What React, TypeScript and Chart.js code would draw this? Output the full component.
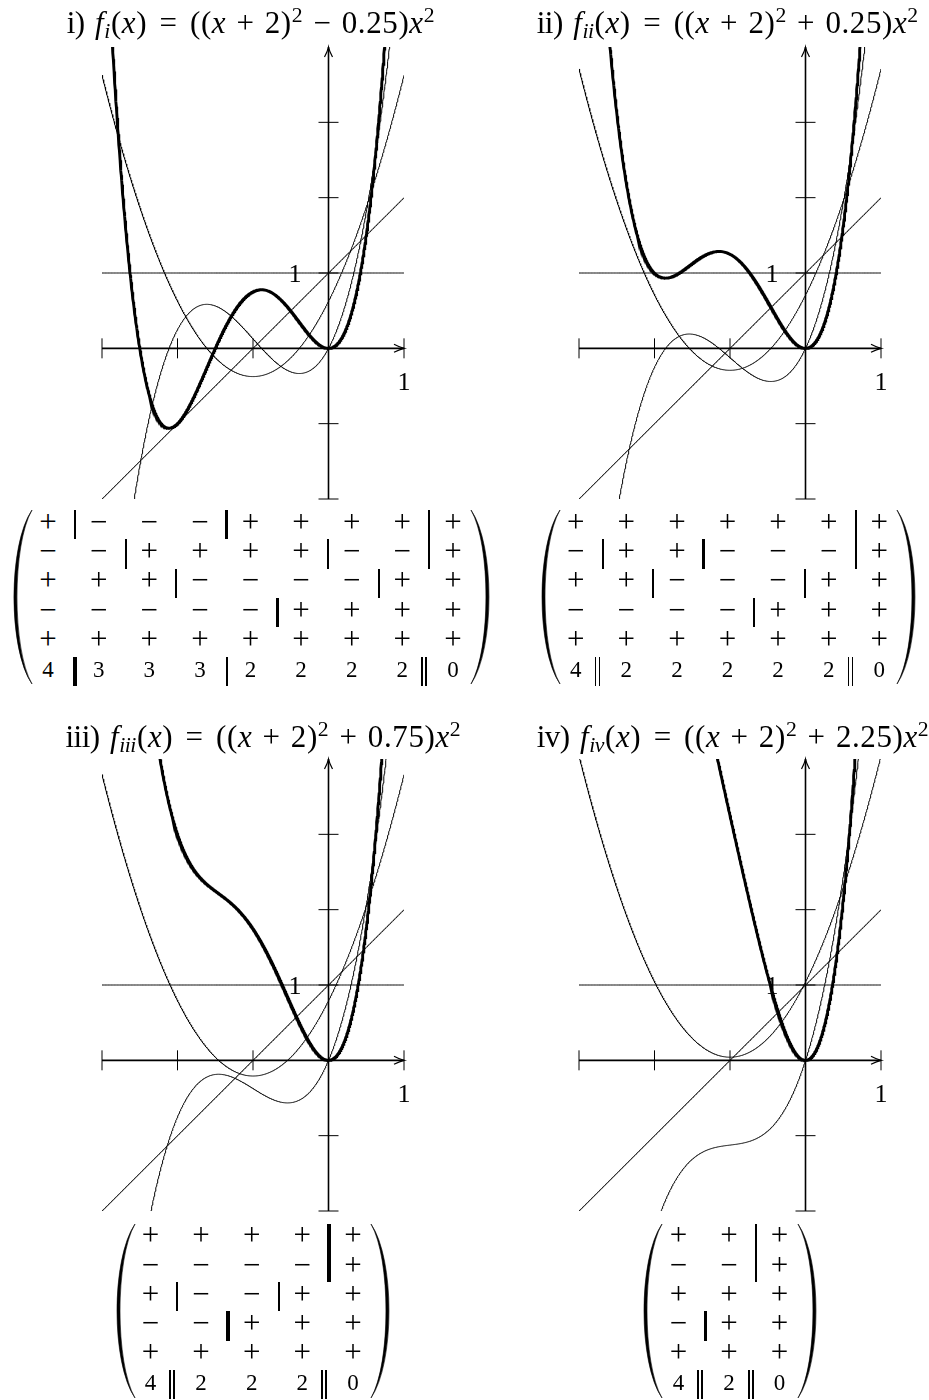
import React, { useEffect, useRef } from "react";
import { Chart, registerables } from "chart.js";

Chart.register(...registerables);

const FONT = '"Liberation Serif", "Times New Roman", serif';

// ---- data ----
const panelNumerals = ["i", "ii", "iii", "iv"];
// c in f(x) = ((x + 2)^2 + c) x^2, as written in each title
const shifts = [-0.25, 0.25, 0.75, 2.25];
const xRange = [-3, 1];
const yRange = [-2, 4];
const xTickValues = [-3, -2, -1, 1];
const yTickValues = [-2, -1, 1, 2, 3];
const axisLabelValue = 1;

// sign tables (| thin bar, ┃ thick bar, ‖ double bar)
const signsI = [
  "+ | − − − ┃ + + + + | +",
  "− − | + + + + | − − | +",
  "+ + + | − − − − | + +",
  "− − − − − ┃ + + + +",
  "+ + + + + + + + +",
  "4 ┃ 3 3 3 | 2 2 2 2 ‖ 0",
];
const signsII = [
  "+ + + + + + | +",
  "− | + + ┃ − − − | +",
  "+ + | − − − | + +",
  "− − − − | + + +",
  "+ + + + + + +",
  "4 ‖ 2 2 2 2 2 ‖ 0",
];
const signsIII = [
  "+ + + + ┃ +",
  "− − − − ┃ +",
  "+ | − − | + +",
  "− − ┃ + + +",
  "+ + + + +",
  "4 ‖ 2 2 2 ‖ 0",
];
const signsIV = [
  "+ + | +",
  "− − | +",
  "+ + +",
  "− ┃ + +",
  "+ + +",
  "4 ‖ 2 ‖ 0",
];
const signTables = [signsI, signsII, signsIII, signsIV];

// ---- layout ----
const PAD = 32;
const PLOT_W = 302;
const PLOT_H = 452;
const plotOrigins = [
  [102, 47],
  [579, 47],
  [102, 759],
  [579, 759],
];
const titlePos = [
  [66.7, 33.3],
  [536.7, 33.3],
  [65.5, 746.7],
  [536.7, 746.7],
];
const matrixPos = [
  [250.5, 524],
  [727.5, 524],
  [251.7, 1237.5],
  [729, 1237.5],
];
const ROW_GAP = 29.3;
const COL_GAP = 50.6;

// polynomial helpers (coefficients ascending)
function basePoly(c: number) {
  // ((x+2)^2 + c) x^2 = x^4 + 4x^3 + (4 + c) x^2
  return [0, 0, 4 + c, 4, 1];
}
function derive(p: number[]) {
  const d: number[] = [];
  for (let i = 1; i < p.length; i++) d.push(i * p[i]);
  return d;
}
function monic(p: number[]) {
  const lead = p[p.length - 1];
  return p.map((v) => v / lead);
}
function evalPoly(p: number[], x: number) {
  let s = 0;
  for (let i = p.length - 1; i >= 0; i--) s = s * x + p[i];
  return s;
}

const xs: number[] = [];
for (let i = 0; i <= 800; i++) xs.push(xRange[0] + (i * (xRange[1] - xRange[0])) / 800);

function curvesFor(c: number) {
  const polys: number[][] = [];
  let p = basePoly(c);
  polys.push(p);
  for (let k = 0; k < 4; k++) {
    p = derive(p);
    polys.push(monic(p));
  }
  return polys.map((q) => xs.map((x) => ({ x, y: evalPoly(q, x) })));
}

const axesPlugin = {
  id: "texAxes",
  beforeDatasetsDraw(chart: any) {
    const { ctx, scales } = chart;
    const X = (v: number) => scales.x.getPixelForValue(v);
    const Y = (v: number) => scales.y.getPixelForValue(v);
    const x0 = X(0);
    const y0 = Y(0);
    ctx.save();
    ctx.strokeStyle = "#000";
    ctx.lineCap = "butt";
    // axes
    ctx.lineWidth = 1.6;
    ctx.beginPath();
    ctx.moveTo(X(xRange[0]), y0);
    ctx.lineTo(X(xRange[1]), y0);
    ctx.stroke();
    ctx.beginPath();
    ctx.moveTo(x0, Y(yRange[0]));
    ctx.lineTo(x0, Y(yRange[1]));
    ctx.stroke();
    // ticks
    ctx.lineWidth = 1;
    xTickValues.forEach((v) => {
      ctx.beginPath();
      ctx.moveTo(X(v), y0 - 10);
      ctx.lineTo(X(v), y0 + 10);
      ctx.stroke();
    });
    yTickValues.forEach((v) => {
      ctx.beginPath();
      ctx.moveTo(x0 - 10, Y(v));
      ctx.lineTo(x0 + 10, Y(v));
      ctx.stroke();
    });
    // arrow heads
    ctx.lineWidth = 1.2;
    const tx = X(xRange[1]);
    ctx.beginPath();
    ctx.moveTo(tx - 10, y0 - 4);
    ctx.quadraticCurveTo(tx - 4, y0 - 0.8, tx, y0);
    ctx.quadraticCurveTo(tx - 4, y0 + 0.8, tx - 10, y0 + 4);
    ctx.stroke();
    const ty = Y(yRange[1]);
    ctx.beginPath();
    ctx.moveTo(x0 - 4, ty + 10);
    ctx.quadraticCurveTo(x0 - 0.8, ty + 4, x0, ty);
    ctx.quadraticCurveTo(x0 + 0.8, ty + 4, x0 + 4, ty + 10);
    ctx.stroke();
    // labels
    ctx.fillStyle = "#000";
    ctx.font = `26px ${FONT}`;
    ctx.textBaseline = "alphabetic";
    ctx.textAlign = "right";
    ctx.fillText(String(axisLabelValue), x0 - 27, Y(axisLabelValue) + 9);
    ctx.textAlign = "center";
    ctx.fillText(String(axisLabelValue), X(axisLabelValue), y0 + 42);
    ctx.restore();
  },
};

function Plot({ c, left, top }: { c: number; left: number; top: number }) {
  const ref = useRef<HTMLCanvasElement | null>(null);
  useEffect(() => {
    if (!ref.current) return;
    const curves = curvesFor(c);
    const chart = new Chart(ref.current, {
      type: "scatter",
      data: {
        datasets: curves.map((pts, k) => ({
          data: pts,
          showLine: true,
          borderColor: "#000",
          backgroundColor: "#000",
          borderWidth: k === 0 ? 2.9 : 1,
          pointRadius: 0,
          pointHoverRadius: 0,
          tension: 0,
          fill: false,
          clip: 0,
        })),
      } as any,
      options: {
        responsive: false,
        animation: false,
        events: [],
        layout: { padding: PAD },
        scales: {
          x: { type: "linear", min: xRange[0], max: xRange[1], display: false },
          y: { type: "linear", min: yRange[0], max: yRange[1], display: false },
        },
        plugins: { legend: { display: false }, tooltip: { enabled: false } },
      } as any,
      plugins: [axesPlugin as any],
    });
    return () => chart.destroy();
  }, [c]);
  return (
    <canvas
      ref={ref}
      width={PLOT_W + 2 * PAD}
      height={PLOT_H + 2 * PAD}
      style={{
        position: "absolute",
        left: left - PAD,
        top: top - PAD,
        width: PLOT_W + 2 * PAD,
        height: PLOT_H + 2 * PAD,
      }}
    />
  );
}

const Sup = ({ children }: any) => (
  <span style={{ fontSize: "0.7em", position: "relative", top: "-0.5em" }}>{children}</span>
);
const Sub = ({ children }: any) => (
  <span
    style={{
      fontSize: "0.7em",
      position: "relative",
      top: "0.22em",
      fontStyle: "italic",
      letterSpacing: "-0.5px",
      marginRight: "0.05em",
    }}
  >
    {children}
  </span>
);
const Op = ({ children, m }: any) => <span style={{ margin: `0 ${m}em` }}>{children}</span>;

function Title({ numeral, c, left, baseline }: any) {
  const fs = 31;
  const sign = c < 0 ? "−" : "+";
  const val = Math.abs(c).toFixed(2);
  return (
    <div
      style={{
        position: "absolute",
        left,
        top: baseline - 0.8375 * fs,
        fontSize: fs,
        lineHeight: 1,
        whiteSpace: "nowrap",
        fontFamily: FONT,
        letterSpacing: "0.6px",
        color: "#000",
      }}
    >
      <span style={{ letterSpacing: "-0.5px" }}>{numeral}</span>)
      <span style={{ marginLeft: "0.3em" }}>
        <i>f</i>
        <Sub>{numeral}</Sub>(<i>x</i>)<Op m={0.4}>=</Op>((<i>x</i>
        <Op m={0.33}>+</Op>2)<Sup>2</Sup>
        <Op m={0.33}>{sign}</Op>
        {val})<i>x</i>
        <Sup>2</Sup>
      </span>
    </div>
  );
}

function parseRow(row: string) {
  const cells: string[] = [];
  const bars: { after: number; kind: string }[] = [];
  row.split(" ").forEach((t) => {
    if (t === "|" || t === "┃" || t === "‖") bars.push({ after: cells.length - 1, kind: t });
    else cells.push(t);
  });
  return { cells, bars };
}

function Paren({ left, top, height, right }: any) {
  const w = 18;
  const h = height;
  const d = `M 18 0 C -6 ${h * 0.2} -6 ${h * 0.8} 18 ${h} C -2 ${h * 0.8} -2 ${h * 0.2} 18 0 Z`;
  return (
    <svg
      width={w}
      height={h}
      style={{ position: "absolute", left, top, overflow: "visible" }}
    >
      <path
        d={d}
        fill="#000"
        stroke="#000"
        strokeWidth={0.6}
        transform={right ? `translate(${w},0) scale(-1,1)` : undefined}
      />
    </svg>
  );
}

function SignMatrix({ rows, cx, y0 }: any) {
  const parsed = rows.map(parseRow);
  const n = parsed[0].cells.length;
  const colX = (j: number) => cx + (j - (n - 1) / 2) * COL_GAP;
  const rowY = (k: number) => y0 + k * ROW_GAP;
  const items: any[] = [];
  parsed.forEach((r: any, k: number) => {
    r.cells.forEach((s: string, j: number) => {
      const digit = /[0-9]/.test(s);
      const fs = digit ? 23 : 31;
      const top = digit ? rowY(k) - 1.5 - 0.5 * fs : rowY(k) - 0.5875 * fs;
      items.push(
        <span
          key={`c${k}-${j}`}
          style={{
            position: "absolute",
            left: colX(j),
            top,
            fontSize: fs,
            lineHeight: 1,
            fontFamily: FONT,
            transform: "translateX(-50%)",
            color: "#000",
          }}
        >
          {s}
        </span>
      );
    });
    r.bars.forEach((b: any, i: number) => {
      const mid = (colX(b.after) + colX(b.after + 1)) / 2;
      const top = rowY(k) - 14;
      if (b.kind === "‖") {
        [-2, 2].forEach((o, q) =>
          items.push(
            <div
              key={`b${k}-${i}-${q}`}
              style={{
                position: "absolute",
                left: mid - 3.5 + o - 0.9,
                top,
                width: 1.8,
                height: ROW_GAP,
                background: "#000",
              }}
            />
          )
        );
      } else {
        const w = b.kind === "┃" ? 3.3 : 2;
        items.push(
          <div
            key={`b${k}-${i}`}
            style={{
              position: "absolute",
              left: mid + 1.5 - w / 2,
              top,
              width: w,
              height: ROW_GAP,
              background: "#000",
            }}
          />
        );
      }
    });
  });
  const pTop = y0 - 14;
  const pH = 5 * ROW_GAP + 27.5;
  return (
    <>
      <Paren left={colX(0) - 34} top={pTop} height={pH} />
      <Paren left={colX(n - 1) + 18} top={pTop} height={pH} right />
      {items}
    </>
  );
}

export default function App() {
  return (
    <div
      style={{
        position: "absolute",
        left: 0,
        top: 0,
        width: 929,
        height: 1400,
        background: "#fff",
        overflow: "hidden",
        fontFamily: FONT,
      }}
    >
      {shifts.map((c, i) => (
        <Plot key={`p${i}`} c={c} left={plotOrigins[i][0]} top={plotOrigins[i][1]} />
      ))}
      {shifts.map((c, i) => (
        <Title
          key={`t${i}`}
          numeral={panelNumerals[i]}
          c={c}
          left={titlePos[i][0]}
          baseline={titlePos[i][1]}
        />
      ))}
      {signTables.map((rows, i) => (
        <SignMatrix key={`m${i}`} rows={rows} cx={matrixPos[i][0]} y0={matrixPos[i][1]} />
      ))}
    </div>
  );
}
